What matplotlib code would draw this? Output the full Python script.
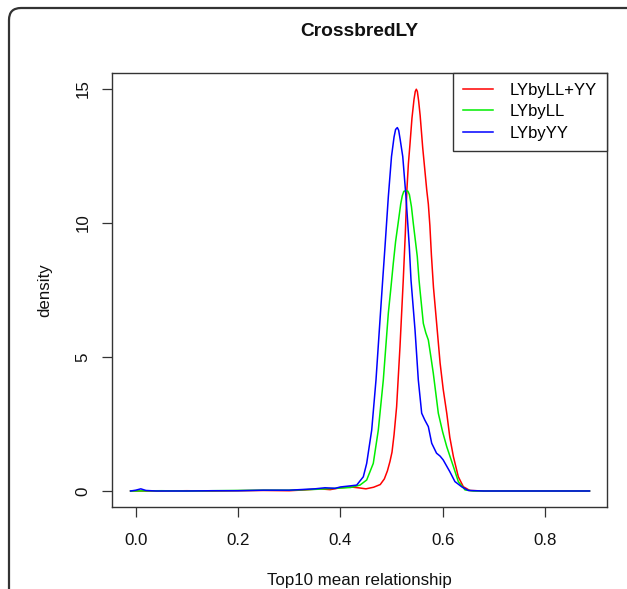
import matplotlib
matplotlib.use("Agg")
import matplotlib.pyplot as plt
from matplotlib.patches import FancyBboxPatch
from matplotlib.transforms import IdentityTransform

plt.rcParams['font.family'] = ['Liberation Sans', 'DejaVu Sans']

title = "CrossbredLY"
xlabel = "Top10 mean relationship"
ylabel = "density"
series_names = ["LYbyLL+YY", "LYbyLL", "LYbyYY"]
series_colors = ["#FF0000", "#00EE00", "#0000FF"]
xticks = [0.0, 0.2, 0.4, 0.6, 0.8]
xticklabels = ["0.0", "0.2", "0.4", "0.6", "0.8"]
yticks = [0, 5, 10, 15]
yticklabels = ["0", "5", "10", "15"]

red_x = [-0.01, 0.05, 0.10, 0.15, 0.20, 0.25, 0.30, 0.33, 0.36, 0.38, 0.40, 0.42, 0.435, 0.45,
         0.465, 0.478, 0.486, 0.492, 0.497, 0.501, 0.505, 0.510, 0.5166, 0.523, 0.527, 0.530,
         0.533, 0.536, 0.540, 0.544, 0.5465, 0.5485, 0.5505, 0.553, 0.556, 0.561, 0.565, 0.569,
         0.572, 0.575, 0.578, 0.582, 0.588, 0.595, 0.601, 0.608, 0.614, 0.621, 0.6306, 0.6404,
         0.653, 0.68, 0.75, 0.887]
red_y = [0.0, 0.0, 0.01, 0.0, 0.01, 0.02, 0.01, 0.04, 0.08, 0.05, 0.12, 0.15, 0.12, 0.08,
         0.14, 0.24, 0.45, 0.75, 1.1, 1.45, 2.1, 3.14, 5.38, 7.87, 9.6, 11.2,
         12.2, 12.9, 13.9, 14.6, 14.9, 14.98, 14.9, 14.55, 14.0, 12.8, 12.0, 11.2,
         10.7, 9.9, 8.8, 7.6, 6.3, 4.77, 3.8, 2.9, 2.0, 1.28, 0.53, 0.16,
         0.02, 0.0, 0.0, 0.0]

green_x = [-0.01, 0.05, 0.10, 0.15, 0.20, 0.25, 0.30, 0.35, 0.38, 0.40, 0.42, 0.4384, 0.4515,
           0.4644, 0.4742, 0.484, 0.4938, 0.4984, 0.5035, 0.508, 0.513, 0.518, 0.521, 0.524,
           0.528, 0.532, 0.535, 0.539, 0.5426, 0.5504, 0.5538, 0.5557, 0.5622, 0.567, 0.572,
           0.577, 0.5817, 0.5915, 0.600, 0.608, 0.621, 0.6306, 0.6437, 0.66, 0.887]
green_y = [0.0, 0.01, 0.0, 0.01, 0.02, 0.03, 0.03, 0.06, 0.09, 0.11, 0.13, 0.22, 0.41,
           1.03, 2.27, 4.14, 6.63, 7.49, 8.49, 9.3, 9.99, 10.7, 11.0, 11.17,
           11.2, 11.18, 11.05, 10.6, 9.98, 8.74, 7.87, 7.49, 6.25, 5.9, 5.63,
           5.0, 4.39, 2.9, 2.2, 1.65, 0.91, 0.35, 0.04, 0.0, 0.0]

blue_x = [-0.01, 0.0, 0.01, 0.02, 0.04, 0.10, 0.15, 0.20, 0.25, 0.30, 0.35, 0.37, 0.39, 0.40,
          0.419, 0.432, 0.4449, 0.4515, 0.4613, 0.4697, 0.4762, 0.4828, 0.4873, 0.4938, 0.500,
          0.505, 0.508, 0.5114, 0.514, 0.517, 0.522, 0.5283, 0.5348, 0.5381, 0.546, 0.5524,
          0.559, 0.565, 0.572, 0.5786, 0.588, 0.595, 0.601, 0.614, 0.624, 0.637, 0.650, 0.68,
          0.887]
blue_y = [0.0, 0.03, 0.08, 0.02, 0.0, 0.0, 0.01, 0.01, 0.03, 0.03, 0.08, 0.12, 0.1, 0.15,
          0.19, 0.22, 0.53, 1.03, 2.27, 4.14, 6.0, 7.87, 9.11, 10.97, 12.47,
          13.2, 13.48, 13.55, 13.45, 13.1, 12.47, 10.97, 9.11, 7.87, 6.0, 4.14,
          2.9, 2.65, 2.4, 1.78, 1.41, 1.3, 1.16, 0.72, 0.35, 0.16, 0.02, 0.0,
          0.0]

W, H = 627, 589
fig = plt.figure(figsize=(W / 100, H / 100), dpi=100)
fig.patch.set_facecolor("white")

# outer rounded frame
frame = FancyBboxPatch((9, -50), 700, 581 + 50, boxstyle="round,pad=0,rounding_size=12",
                       transform=IdentityTransform(), fill=False, edgecolor="#333333",
                       linewidth=1.6)
fig.patches.append(frame)

left, right, bottom, top = 112, 607.3, 589 - 507.3, 589 - 73
ax = fig.add_axes([left / W, bottom / H, (right - left) / W, (top - bottom) / H])

for xs, ys, c, n in zip([red_x, green_x, blue_x], [red_y, green_y, blue_y], series_colors, series_names):
    ax.plot(xs, ys, color=c, linewidth=1.1, label=n)

ax.set_xlim(-0.0463, 0.9218)
ax.set_ylim(-0.608, 15.585)
ax.set_xticks(xticks)
ax.set_xticklabels(xticklabels)
ax.set_yticks(yticks)
ax.set_yticklabels(yticklabels, rotation=90, va="center")
ax.tick_params(axis="both", length=7.5, width=0.9, color="#333333", labelsize=12.2,
               labelcolor="#111111")
ax.tick_params(axis="x", pad=11)
ax.tick_params(axis="y", pad=8)
for s in ax.spines.values():
    s.set_color("#333333")
    s.set_linewidth(1.0)

ax.set_xlabel(xlabel, fontsize=12.2, labelpad=18, color="#111111")
ax.set_ylabel(ylabel, fontsize=12.2, labelpad=17, color="#111111")
fig.text(0.5 * (left + right) / W, 1 - 32 / H, title, ha="center", va="center",
         fontsize=13.8, fontweight="bold", color="#111111")

leg = ax.legend(loc="upper right", bbox_to_anchor=(1, 1), borderaxespad=0, fancybox=False,
                framealpha=1, edgecolor="#333333", fontsize=12.0, handlelength=1.75,
                handletextpad=1.05, labelspacing=0.38, borderpad=0.6)
leg.get_frame().set_linewidth(1.0)

fig.savefig("out.png", dpi=100)
